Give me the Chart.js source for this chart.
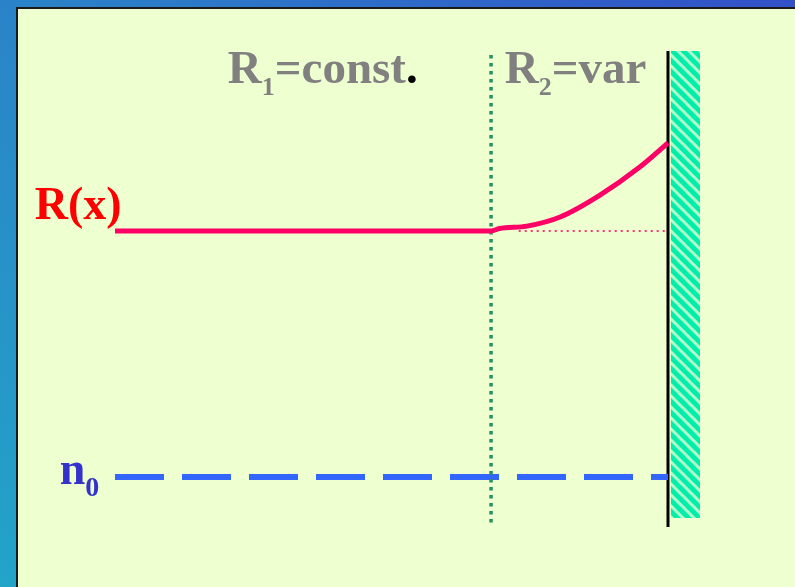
<!DOCTYPE html>
<html>
<head>
<meta charset="utf-8">
<script src="https://cdn.jsdelivr.net/npm/chart.js@4.4.0/dist/chart.umd.min.js"></script>
<style>
html, body { margin: 0; padding: 0; }
body {
  width: 795px; height: 587px; overflow: hidden; position: relative;
  background: linear-gradient(to bottom left, #3350c8 0%, #2b80c8 45%, #22a4c8 100%);
}
#panel {
  position: absolute; left: 16px; top: 7px; width: 800px; height: 600px;
  background: #eeffd0; border-left: 2px solid #1a1a1a; border-top: 2px solid #1a1a1a;
}
#wrap { position: absolute; left: 0; top: 0; width: 795px; height: 587px; }
</style>
</head>
<body>
<div id="panel"></div>
<div id="wrap"><canvas id="chart" width="795" height="587"></canvas></div>
<script>
// x: distance along the sample, the wall sits at x = 10
// y: level, R1 = 1, n0 = 0
const boundaryX = 6.8
const wallX = 10

// R(x): constant in region 1, growing in region 2
const rX = [0, 6.8, 6.95, 7.45, 8.05, 8.77, 9.49, 10]
const rY = [1, 1, 1.01, 1.02, 1.057, 1.146, 1.26, 1.358]

// continuation of R1 level into region 2 (dotted)
const r1RefX = [7.3, 10]
const r1RefY = [1, 1]

// n0 level
const n0X = [0, 10]
const n0Y = [0, 0]

// vertical extents
const boundaryY = [1.715, -0.195]
const wallY = [1.732, -0.203]
const hatchX = [10.05, 10.58]
const hatchTop = 1.732
const hatchBottom = -0.167

// text labels (position in data units)
const labels = [
  { x: 2.04, y: 1.602, parts: [["R", 47, "#808080", 0], ["1", 26, "#808080", 12], ["=const", 47, "#808080", 0], [".", 47, "#000000", 0]] },
  { x: 7.05, y: 1.602, parts: [["R", 47, "#808080", 0], ["2", 26, "#808080", 12], ["=var", 47, "#808080", 0]] },
  { x: -1.45, y: 1.049, parts: [["R(x)", 46, "#ff0000", 0]] },
  { x: -1.0, y: -0.028, parts: [["n", 46, "#3333cc", 0], ["0", 28, "#3333cc", 12]] }
]

function pts(xs, ys) {
  return xs.map((v, i) => ({ x: v, y: ys[i] }))
}

function hatchPattern() {
  const c = document.createElement("canvas")
  c.width = 11; c.height = 11
  const g = c.getContext("2d")
  g.fillStyle = "#00eeaa"
  g.fillRect(0, 0, 11, 11)
  g.strokeStyle = "#b0ffcc"
  g.lineWidth = 3
  for (let k = -11; k <= 11; k += 11) {
    g.beginPath()
    g.moveTo(k - 2, -2)
    g.lineTo(k + 13, 13)
    g.stroke()
  }
  return g.createPattern(c, "repeat")
}

const labelPlugin = {
  id: "labels",
  afterDatasetsDraw(chart) {
    const ctx = chart.ctx
    const sx = chart.scales.x
    const sy = chart.scales.y
    ctx.save()
    ctx.textBaseline = "alphabetic"
    labels.forEach(l => {
      let px = sx.getPixelForValue(l.x)
      const py = sy.getPixelForValue(l.y)
      l.parts.forEach(p => {
        ctx.font = "bold " + p[1] + "px 'Liberation Serif', 'Times New Roman', serif"
        ctx.fillStyle = p[2]
        ctx.fillText(p[0], px, py + p[3])
        px += ctx.measureText(p[0]).width
      })
    })
    ctx.restore()
  }
}

new Chart(document.getElementById("chart"), {
  type: "scatter",
  data: {
    datasets: [
      {
        data: pts(rX, rY),
        showLine: true,
        borderColor: "#ff0066",
        borderWidth: 5,
        cubicInterpolationMode: "monotone",
        pointRadius: 0
      },
      {
        data: pts([boundaryX, boundaryX], boundaryY),
        showLine: true,
        borderColor: "#2a9060",
        borderWidth: 3.5,
        borderDash: [3.5, 4.5],
        pointRadius: 0
      },
      {
        data: pts(n0X, n0Y),
        showLine: true,
        borderColor: "#3366ff",
        borderWidth: 6,
        borderDash: [49, 18],
        pointRadius: 0
      },
      {
        data: pts(r1RefX, r1RefY),
        showLine: true,
        borderColor: "#ff3377",
        borderWidth: 2,
        borderDash: [2, 4],
        pointRadius: 0
      },
      {
        data: pts([wallX, wallX], wallY),
        showLine: true,
        borderColor: "#000000",
        borderWidth: 3,
        pointRadius: 0
      },
      {
        data: pts(hatchX, [hatchTop, hatchTop]),
        showLine: true,
        borderWidth: 0,
        borderColor: "rgba(0,0,0,0)",
        backgroundColor: hatchPattern(),
        fill: { value: hatchBottom },
        pointRadius: 0
      }
    ]
  },
  options: {
    responsive: false,
    animation: false,
    devicePixelRatio: 1,
    layout: { padding: 0 },
    plugins: { legend: { display: false }, tooltip: { enabled: false } },
    scales: {
      x: { type: "linear", min: -2.0796, max: 12.2966, display: false },
      y: { type: "linear", min: -0.447, max: 1.939, display: false }
    }
  },
  plugins: [labelPlugin]
})
</script>
</body>
</html>
